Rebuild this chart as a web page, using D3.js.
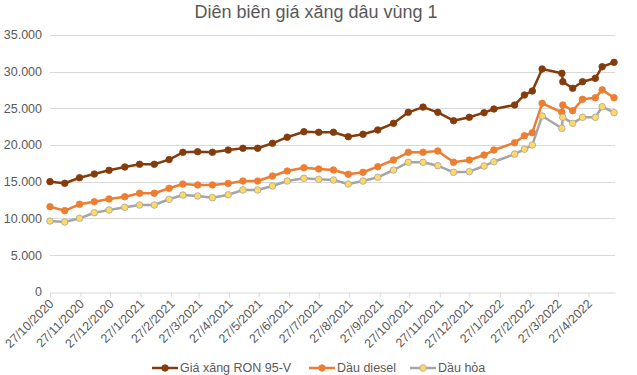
<!DOCTYPE html>
<html>
<head>
<meta charset="utf-8">
<script src="https://cdn.jsdelivr.net/npm/d3@7"></script>
<style>
  body { margin: 0; background: #fff; }
  text { font-family: "Liberation Sans", Arial, sans-serif; }
</style>
</head>
<body>
<svg width="637" height="375"></svg>
<script>
// ngay dieu chinh gia
const dates = [
  '27/10/2020', '11/11/2020', '26/11/2020', '11/12/2020', '26/12/2020',
  '11/01/2021', '26/01/2021', '10/02/2021', '25/02/2021', '11/03/2021',
  '26/03/2021', '10/04/2021', '26/04/2021', '11/05/2021', '26/05/2021',
  '10/06/2021', '25/06/2021', '12/07/2021', '27/07/2021', '11/08/2021',
  '26/08/2021', '10/09/2021', '25/09/2021', '11/10/2021', '26/10/2021',
  '10/11/2021', '25/11/2021', '11/12/2021', '27/12/2021', '11/01/2022',
  '21/01/2022', '11/02/2022', '21/02/2022', '01/03/2022', '11/03/2022',
  '31/03/2022', '01/04/2022', '11/04/2022', '21/04/2022', '04/05/2022',
  '11/05/2022', '23/05/2022'
];

const ron95 = [
  14990, 14770, 15530, 16030, 16540, 16990, 17360, 17360, 18000, 18990,
  19070, 18990, 19300, 19540, 19540, 20220, 21050, 21800, 21720, 21720,
  21120, 21450, 22030, 22940, 24440, 25150, 24440, 23300, 23760, 24390,
  24890, 25440, 26800, 27340, 30340, 29760, 28610, 27710, 28610, 29070,
  30650, 31250
];

const diesel = [
  11580, 11040, 11910, 12260, 12630, 12940, 13410, 13410, 14090, 14670,
  14540, 14540, 14750, 15080, 15080, 15760, 16440, 16890, 16720, 16580,
  16000, 16270, 17030, 17940, 18990, 18990, 19170, 17630, 17940, 18620,
  19300, 20300, 21250, 21660, 25670, 24440, 25440, 24660, 26210, 26420,
  27500, 26420
];

const dauHoa = [
  9630, 9500, 10000, 10760, 11130, 11500, 11810, 11810, 12590, 13170,
  13040, 12810, 13200, 13860, 13860, 14400, 15080, 15450, 15310, 15220,
  14670, 15080, 15590, 16580, 17630, 17630, 17170, 16270, 16350, 17130,
  17710, 18740, 19400, 19990, 23940, 22260, 23760, 22940, 23760, 23760,
  25200, 24390
];

const seriesNames = ['Giá xăng RON 95-V', 'Dầu diesel', 'Dầu hỏa'];
const yTicks = [0, 5000, 10000, 15000, 20000, 25000, 30000, 35000];
const title = 'Diên biên giá xăng dâu vùng 1';

const parseDate = d3.timeParse('%d/%m/%Y');
const days = dates.map(parseDate);

// ticks on the 27th of every month
const tickDates = d3.range(19).map((i) => new Date(2020, 9 + i, 27));

const svg = d3.select('svg');
const plotLeft = 50, plotRight = 615, plotTop = 34.8, plotBottom = 291.7;

const x = d3.scaleTime()
  .domain([parseDate('27/10/2020'), parseDate('24/05/2022')])
  .range([plotLeft, plotRight]);
const y = d3.scaleLinear().domain([0, 35000]).range([plotBottom, plotTop]);

const fmt = d3.formatLocale({ decimal: ',', thousands: '.', grouping: [3], currency: ['', ''] }).format(',');

// title
svg.append('text')
  .attr('x', 316)
  .attr('y', 18)
  .attr('text-anchor', 'middle')
  .attr('font-size', 18)
  .attr('fill', '#595959')
  .text(title);

// grid
svg.append('g')
  .selectAll('line')
  .data(yTicks.filter((d) => d > 0))
  .join('line')
  .attr('x1', plotLeft)
  .attr('x2', plotRight)
  .attr('y1', (d) => Math.round(y(d)) + 0.5)
  .attr('y2', (d) => Math.round(y(d)) + 0.5)
  .attr('stroke', '#d9d9d9');

// y axis labels
svg.append('g')
  .selectAll('text')
  .data(yTicks)
  .join('text')
  .attr('x', 42)
  .attr('y', (d) => y(d) + 4.5)
  .attr('text-anchor', 'end')
  .attr('font-size', 12.5)
  .attr('fill', '#595959')
  .text((d) => fmt(d));

// x axis
const xAxis = svg.append('g')
  .attr('transform', `translate(0,${Math.round(plotBottom) + 0.5})`)
  .call(d3.axisBottom(x)
    .tickValues(tickDates)
    .tickSize(5)
    .tickSizeOuter(0)
    .tickFormat(d3.timeFormat('%-d/%-m/%Y')));

xAxis.select('.domain').attr('stroke', '#d9d9d9');
xAxis.selectAll('.tick line').attr('stroke', '#d9d9d9');
xAxis.selectAll('.tick text')
  .attr('font-size', 12.5)
  .attr('font-family', '"Liberation Sans", Arial, sans-serif')
  .attr('fill', '#595959')
  .attr('text-anchor', 'end')
  .attr('dy', null)
  .attr('y', 0)
  .attr('transform', 'translate(4,12) rotate(-45)');

const series = [
  { name: seriesNames[0], values: ron95, color: '#843c0c', fill: '#843c0c' },
  { name: seriesNames[1], values: diesel, color: '#ed7d31', fill: '#ed7d31' },
  { name: seriesNames[2], values: dauHoa, color: '#a5a5a5', fill: '#ffd966' }
];

const line = d3.line()
  .x((d) => x(d.date))
  .y((d) => y(d.value));

series.forEach((s) => {
  const pts = s.values.map((v, i) => ({ date: days[i], value: v }));
  svg.append('path')
    .datum(pts)
    .attr('d', line)
    .attr('fill', 'none')
    .attr('stroke', s.color)
    .attr('stroke-width', 2.5)
    .attr('stroke-linejoin', 'round');

  svg.append('g')
    .selectAll('circle')
    .data(pts)
    .join('circle')
    .attr('cx', (d) => x(d.date))
    .attr('cy', (d) => y(d.value))
    .attr('r', 3.3)
    .attr('fill', s.fill)
    .attr('stroke', s.color)
    .attr('stroke-width', 0.8);
});

// legend
const legendX = [152, 309, 410];
series.forEach((s, i) => {
  let g = svg.append('g').attr('transform', `translate(${legendX[i]},368)`);
  g.append('line')
    .attr('x1', 0)
    .attr('x2', 26)
    .attr('stroke', s.color)
    .attr('stroke-width', 2.5);
  g.append('circle')
    .attr('cx', 13)
    .attr('r', 3.3)
    .attr('fill', s.fill)
    .attr('stroke', s.color)
    .attr('stroke-width', 0.8);
  g.append('text')
    .attr('x', 28)
    .attr('y', 3.5)
    .attr('font-size', 12.5)
    .attr('fill', '#595959')
    .text(s.name);
});
</script>
</body>
</html>
